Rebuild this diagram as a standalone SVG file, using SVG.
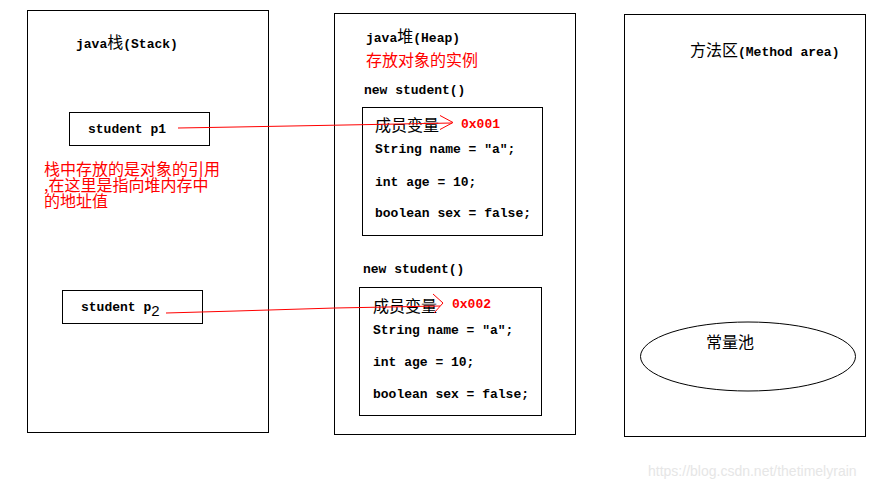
<svg xmlns="http://www.w3.org/2000/svg" width="892" height="488" viewBox="0 0 892 488">
<style>
.box{fill:none;stroke:#000;stroke-width:1}
.code{font-family:"Liberation Mono","DejaVu Sans Mono",monospace;font-weight:bold;font-size:13px;fill:#000}
.cjk{font-family:"Noto Sans CJK SC",sans-serif;font-weight:normal;font-size:16px}
.red{fill:#ff0000}
.addr{font-family:"Liberation Mono","DejaVu Sans Mono",monospace;font-weight:bold;font-size:13px;fill:#ff0000}
.conn{fill:none;stroke:#ff0000;stroke-width:1}
</style>
<rect width="892" height="488" fill="#fff"/>
<g id="stack">
<rect class="box" x="27.5" y="10.5" width="241" height="422"/>
<text class="code" x="76" y="48">java<tspan class="cjk" font-size="14">栈</tspan>(Stack)</text>
<text class="cjk red" x="44" y="175">栈中存放的是对象的引用</text>
<text class="cjk red" x="44" y="191">,在这里是指向堆内存中</text>
<text class="cjk red" x="44" y="207">的地址值</text>
</g>
<g id="p1">
<rect class="box" x="69.5" y="112.5" width="140" height="33"/>
<text class="code" x="88" y="133">student p1</text>
</g>
<g id="p2">
<rect class="box" x="62.5" y="290.5" width="140" height="33"/>
<text class="code" x="81" y="311">student p<tspan font-family="Liberation Sans,sans-serif" font-weight="normal" font-size="15" dy="5">2</tspan></text>
</g>
<g id="heap">
<rect class="box" x="334.5" y="13.5" width="241" height="421"/>
<text class="code" x="366" y="42">java<tspan class="cjk" font-size="14">堆</tspan>(Heap)</text>
<text class="cjk red" x="366" y="66">存放对象的实例</text>
</g>
<g id="obj1">
<text class="code" x="364" y="94">new student()</text>
<rect class="box" x="362.5" y="107.5" width="180" height="128"/>
<text class="cjk" x="375" y="131">成员变量</text>
<text class="addr" x="461" y="128">0x001</text>
<text class="code" x="375" y="153">String name = "a";</text>
<text class="code" x="375" y="186">int age = 10;</text>
<text class="code" x="375" y="217">boolean sex = false;</text>
</g>
<g id="obj2">
<text class="code" x="363" y="273">new student()</text>
<rect class="box" x="359.5" y="287.5" width="182" height="128"/>
<text class="cjk" x="373" y="312">成员变量</text>
<text class="addr" x="452" y="308">0x002</text>
<text class="code" x="373" y="334">String name = "a";</text>
<text class="code" x="373" y="366">int age = 10;</text>
<text class="code" x="373" y="398">boolean sex = false;</text>
</g>
<g id="method">
<rect class="box" x="624.5" y="14.5" width="241" height="422"/>
<text class="code" x="690" y="56"><tspan class="cjk" font-size="15">方法区</tspan>(Method area)</text>
</g>
<g id="pool">
<ellipse class="box" cx="748" cy="356.5" rx="107.5" ry="34.5"/>
<text class="cjk" x="706" y="348">常量池</text>
</g>
<g id="connectors">
<path class="conn" d="M178 128 L236 127 L345 125 L452 123"/>
<path class="conn" d="M440 115.5 L453 122.5 L440 129.5"/>
<path class="conn" d="M166 313 L236 311 L335 308 L440 306"/>
<path class="conn" d="M433 294 L443 303 L434 313"/>
</g>
<text x="648" y="476" font-family="Liberation Sans,sans-serif" font-size="14" fill="#e6e6e6">https://blog.csdn.net/thetimelyrain</text>
</svg>
